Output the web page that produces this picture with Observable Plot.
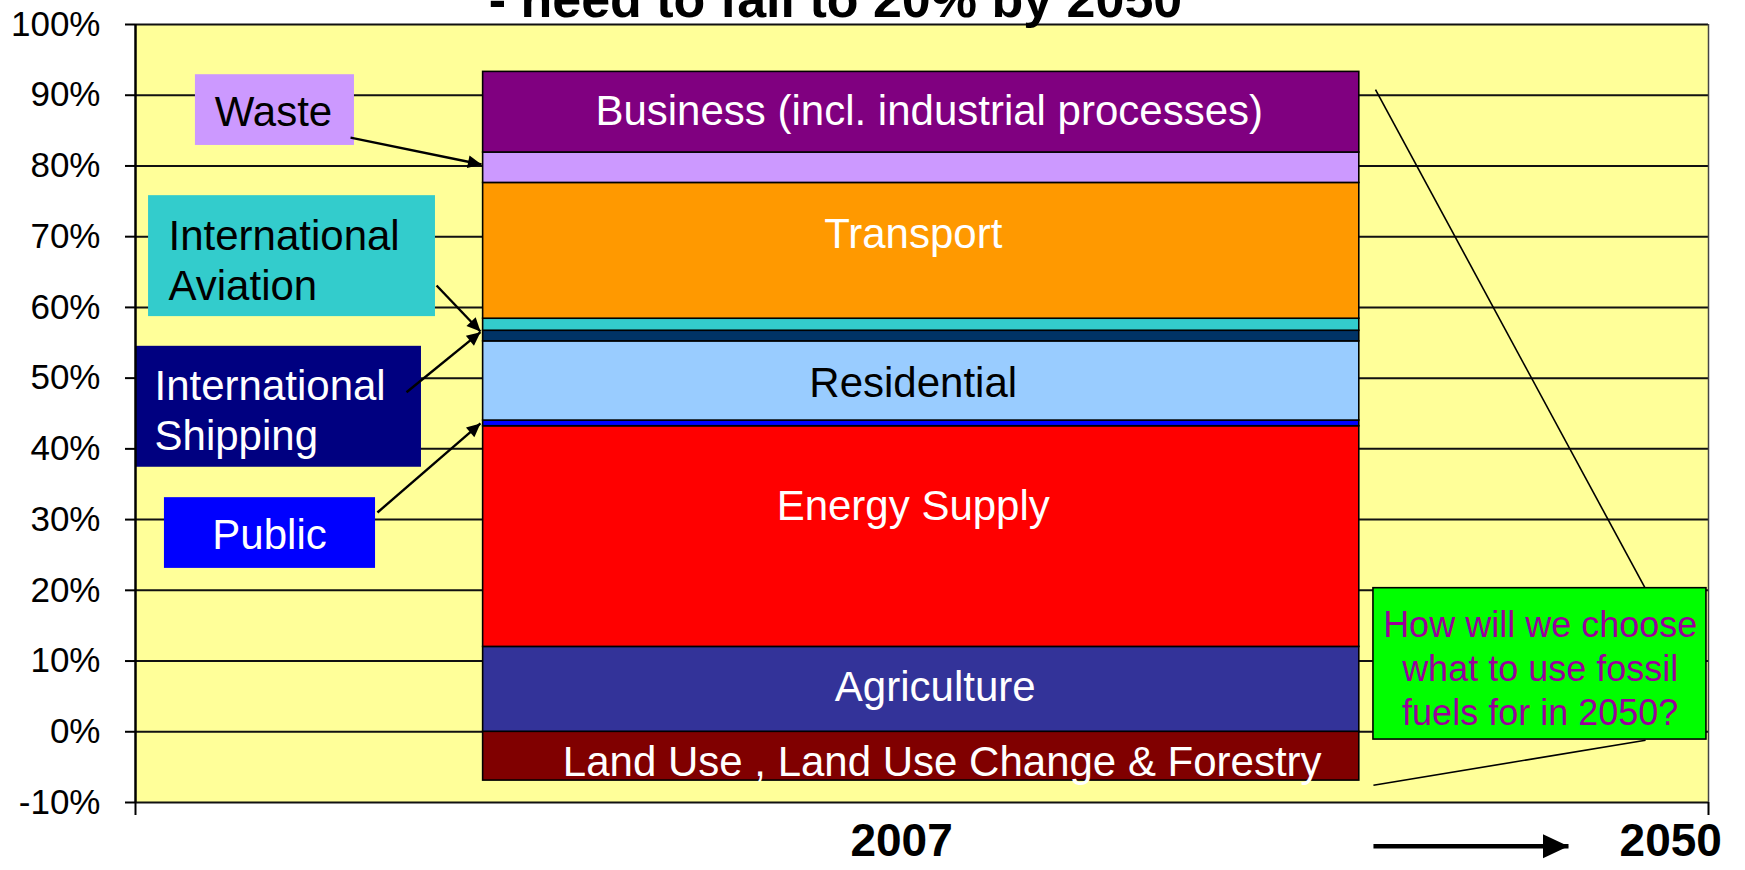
<!DOCTYPE html>
<html><head><meta charset="utf-8">
<script src="https://cdn.jsdelivr.net/npm/d3@7"></script>
<script src="https://cdn.jsdelivr.net/npm/@observablehq/plot@0.6"></script>
<style>html,body{margin:0;padding:0;background:#fff;overflow:hidden;}</style>
</head><body><div id="chart"></div>
<script>
// ---- chart data ----
const sectors = ["Land Use , Land Use Change & Forestry","Agriculture","Energy Supply","Public","Residential","International Shipping","International Aviation","Transport","Waste","Business (incl. industrial processes)"];
const shares = [-6.9, 12.0, 31.2, 0.8, 11.2, 1.5, 1.7, 19.2, 4.3, 11.4];
const sectorColors = ["#800000","#333399","#FF0000","#0000FF","#99CCFF","#003366","#33CCCC","#FF9900","#CC99FF","#800080"];
const inBarLabel = [true,true,true,false,true,false,false,true,false,true];
const inBarTextColor = ["white","white","white","white","black","white","white","white","black","white"];
const labelDx = [21,14,-8,0,-8,0,0,-8,0,8];
const labelDy = [6,-2,-30,0,3,0,0,-16,0,-1];
const yTicks = d3.range(-10, 101, 10);
const xTickLabels = ["2007", "2050"];
const xTickLabelPos = [48.7, 97.6];
const xTickLabelY = -15.5;
const barSpan = [22.1, 77.8];
const titleText = "- need to fall to 20% by 2050";

// ---- callout annotations (data units) ----
const callouts = ["Waste", "International\nAviation", "International\nShipping", "Public"];
const calloutFill = ["#CC99FF","#33CCCC","#000080","#0000FF"];
const calloutTextColor = ["black","black","white","white"];
const calloutAnchor = ["middle","start","start","middle"];
const calloutX1 = [3.81, 0.83, 0, 1.84];
const calloutX2 = [13.92, 19.07, 18.18, 15.26];
const calloutY1 = [82.9, 58.7, 37.4, 23.1];
const calloutY2 = [92.9, 75.8, 54.5, 33.1];
const calloutTextX = [8.77, 2.1, 1.21, 8.52];
const calloutTextY = [87.55, 66.8, 45.6, 27.8];
const arrowX1 = [13.67, 19.14, 17.23, 15.38];
const arrowY1 = [84.0, 63.1, 48.0, 31.0];
const arrowX2 = [22.0, 21.93, 21.93, 21.93];
const arrowY2 = [80.2, 56.6, 56.5, 43.6];

const questionText = "How will we choose\nwhat to use fossil\nfuels for in 2050?";
const questionBox = {x1: 78.7, x2: 99.87, y1: -1.1, y2: 20.3, tx: 89.3, ty: 9.2};
const funnelX1 = [78.83, 78.7], funnelY1 = [90.8, -7.56];
const funnelX2 = [96.0, 96.0], funnelY2 = [20.2, -1.2];
const timeArrow = {x1: 78.7, x2: 91.1, y: -16.2};

// ---- build tables ----
let pos = 0, neg = 0;
const segs = sectors.map((s, i) => {
  const v = shares[i];
  let y1, y2;
  if (v >= 0) { y1 = pos; y2 = pos + v; pos = y2; } else { y1 = neg; y2 = neg + v; neg = y2; }
  return {sector: s, y1, y2, mid: (y1 + y2) / 2, color: sectorColors[i], tc: inBarTextColor[i], show: inBarLabel[i], dx: labelDx[i], dy: labelDy[i]};
});
const calloutRows = callouts.map((t, i) => ({t, fill: calloutFill[i], tc: calloutTextColor[i], anchor: calloutAnchor[i],
  x1: calloutX1[i], x2: calloutX2[i], y1: calloutY1[i], y2: calloutY2[i], tx: calloutTextX[i], ty: calloutTextY[i],
  ax1: arrowX1[i], ay1: arrowY1[i], ax2: arrowX2[i], ay2: arrowY2[i]}));
const funnel = funnelX1.map((x, i) => ({x1: x, y1: funnelY1[i], x2: funnelX2[i], y2: funnelY2[i]}));
const font = "'Liberation Sans', Arial, Helvetica, sans-serif";

const labelMarks = segs.filter(d => d.show).map(d =>
  Plot.text([d], {x: (barSpan[0] + barSpan[1]) / 2, y: "mid", text: "sector", fill: d.tc, fontSize: 42, dx: d.dx, dy: d.dy, lineAnchor: "middle"}));

const chart = Plot.plot({
  width: 1745, height: 870,
  marginLeft: 135, marginRight: 37, marginTop: 24, marginBottom: 68,
  style: {fontFamily: font, fontSize: "35px", color: "black", background: "white", overflow: "hidden"},
  x: {domain: [0, 100]},
  y: {domain: [-10, 100]},
  marks: [
    Plot.frame({fill: "#FFFF99", stroke: null}),
    Plot.ruleY(yTicks, {stroke: "#111", strokeWidth: 2}),
    Plot.link(funnel, {x1: "x1", y1: "y1", x2: "x2", y2: "y2", stroke: "black", strokeWidth: 1.6}),
    Plot.rect(segs, {x1: barSpan[0], x2: barSpan[1], y1: "y1", y2: "y2", fill: "color", stroke: "black", strokeWidth: 1.6}),
    Plot.rect(calloutRows, {x1: "x1", x2: "x2", y1: "y1", y2: "y2", fill: "fill"}),
    Plot.link(calloutRows, {x1: "ax1", y1: "ay1", x2: "ax2", y2: "ay2", stroke: "black", strokeWidth: 2.4, markerEnd: "arrow"}),
    Plot.link([timeArrow], {x1: "x1", x2: "x2", y1: "y", y2: "y", stroke: "black", strokeWidth: 4.5, markerEnd: "arrow"}),
    Plot.rect([questionBox], {x1: "x1", x2: "x2", y1: "y1", y2: "y2", fill: "#00FF00", stroke: "black", strokeWidth: 1.6}),
    Plot.text([questionBox], {x: "tx", y: "ty", text: () => questionText, fill: "#990099", fontSize: 36, lineHeight: 1.22, lineAnchor: "middle"}),
    ...labelMarks,
    Plot.text(calloutRows.filter(d => d.anchor === "middle"), {x: "tx", y: "ty", text: "t", fill: "tc", fontSize: 42, lineAnchor: "middle"}),
    Plot.text(calloutRows.filter(d => d.anchor === "start"), {x: "tx", y: "ty", text: "t", fill: "tc", fontSize: 42, textAnchor: "start", lineHeight: 1.19, lineAnchor: "middle"}),
    Plot.text(xTickLabels, {x: (d, i) => xTickLabelPos[i], y: xTickLabelY, text: d => d, fontSize: 46, fontWeight: "bold", lineAnchor: "middle"}),
    Plot.text([titleText], {x: 44.5, frameAnchor: "top", text: d => d, fontSize: 52, fontWeight: "bold", lineAnchor: "bottom", dy: -8}),
    Plot.ruleX([0], {stroke: "black", strokeWidth: 2.5}),
    Plot.ruleX([100], {stroke: "#444", strokeWidth: 1.5}),
    Plot.axisY({ticks: yTicks, tickFormat: d => `${d}%`, tickSize: 10, tickPadding: 25, fontSize: 35, label: null, strokeWidth: 2}),
    Plot.axisX({ticks: [0, 100], tickSize: 13, tickFormat: () => "", label: null, strokeWidth: 2})
  ]
});

// filled arrowheads
chart.querySelectorAll("marker").forEach(m => {
  const c = m.getAttribute("stroke") || "black";
  m.setAttribute("overflow", "visible");
  m.setAttribute("fill", c);
  m.setAttribute("stroke", "none");
  const p = m.querySelector("path");
  if (p) p.setAttribute("d", "M-8.5,-4L0,0L-8.5,4Z");
});
document.getElementById("chart").appendChild(chart);
</script>
</body></html>
